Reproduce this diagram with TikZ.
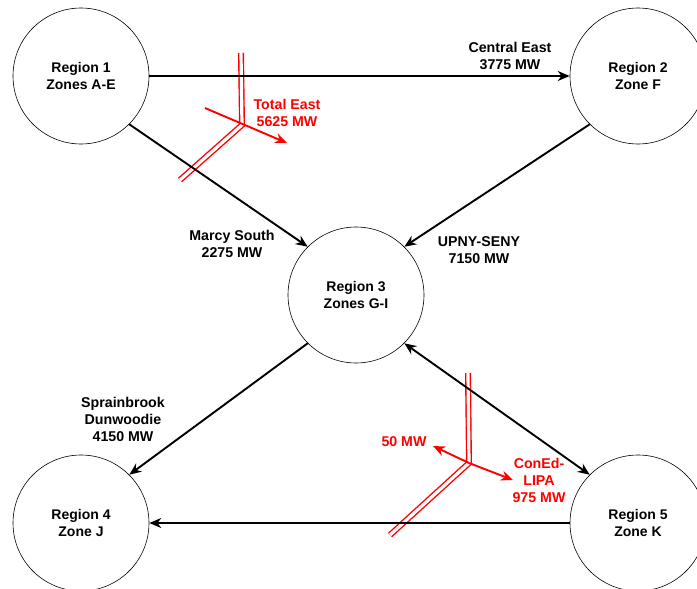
\documentclass[tikz,border=0pt]{standalone}
\usepackage{fontspec}
\setmainfont{Liberation Sans}
\usetikzlibrary{arrows.meta}
\tikzset{
    region/.style={
        draw, circle, minimum size=136pt, inner sep=0pt,
        line width=0.6pt, align=center,
        font=\fontsize{14}{17}\selectfont\bfseries
    },
    flow/.style={line width=1.9pt, -{Stealth[length=12pt,width=10pt]}},
    bothflow/.style={flow, {Stealth[length=12pt,width=10pt]}-{Stealth[length=12pt,width=10pt]}},
    lbl/.style={align=center, font=\fontsize{14.2}{17}\selectfont\bfseries},
    redlbl/.style={lbl, text=red},
    cut/.style={draw=red, double=white, double distance=3.2pt, line width=1.4pt},
    redflow/.style={red, line width=1.9pt, -{Stealth[length=12pt,width=10pt]}}
}
\newcommand{\interfacecut}[3] {
	\draw[cut] (#1) -- (#2) -- (#3);
}

\begin{document}
\begin{tikzpicture}[x=1pt,y=-1pt]
		\useasboundingbox (0,0) rectangle (697,589);

		% regions
		\node[region] (r1) at (81,76) {Region 1\\Zones A-E};
		\node[region] (r2) at (638,76) {Region 2\\Zone F};
		\node[region] (r3) at (356,295) {Region 3\\Zones G-I};
		\node[region] (r4) at (81,523) {Region 4\\Zone J};
		\node[region] (r5) at (638,523) {Region 5\\Zone K};

		% Total East cut
		\coordinate (tetop) at (241,53);
		\coordinate (te) at (242,125);
		\coordinate (tebot) at (180,180);
		\coordinate (tetail) at (205,108);
		\coordinate (tehead) at (287,143);
		\interfacecut{tetop}{te}{tebot}

		% ConEd-LIPA cut
		\coordinate (citop) at (468,373);
		\coordinate (ci) at (469,463);
		\coordinate (cibot) at (390,535);
		\coordinate (cileft) at (433,446);
		\coordinate (ciright) at (513,480);
		\interfacecut{citop}{ci}{cibot}

		% flows
		\draw[flow] (r1.east) -- (r2.west);
		\draw[flow] (r1.-45) -- (r3.135);
		\draw[flow] (r2.-135) -- (r3.45);
		\draw[flow] (r3.-135) -- (r4.45);
		\draw[bothflow] (r3.-45) -- (r5.135);
		\draw[flow] (r5.west) -- (r4.east);

		\draw[redflow] (tetail) -- (tehead);
		\draw[redflow] (ci) -- (cileft);
		\draw[redflow] (ci) -- (ciright);

		% labels
		\node[lbl] (ce) at (510,56) {Central East\\3775 MW};
		\node[lbl] (ms) at (232,243.5) {Marcy South\\2275 MW};
		\node[lbl] (us) at (479,250) {UPNY-SENY\\7150 MW};
		\node[lbl] (sd) at (123,419) {Sprainbrook\\Dunwoodie\\4150 MW};
		\node[redlbl] (tel) at (287,112.5) {Total East\\5625 MW};
		\node[redlbl] (fifty) at (404,442) {50 MW};
		\node[redlbl] (cil) at (539,480.5) {ConEd-\\LIPA\\975 MW};

	\end{tikzpicture}
\end{document}
